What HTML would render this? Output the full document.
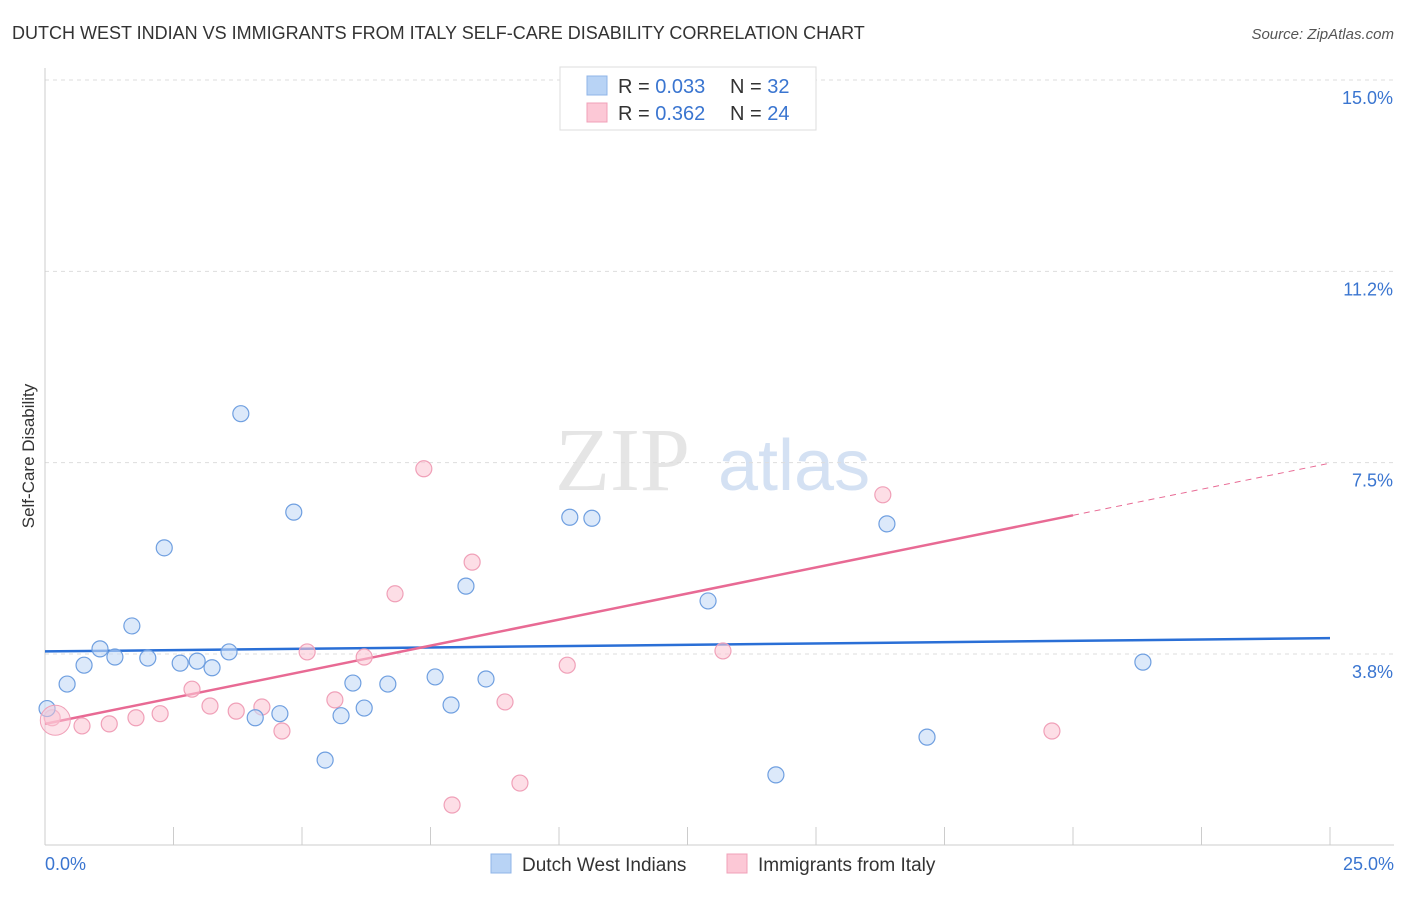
<!DOCTYPE html>
<html><head><meta charset="utf-8"><style>
body{margin:0;background:#fff;font-family:"Liberation Sans",sans-serif;}
</style></head><body>
<svg id="chart" width="1406" height="892" xmlns="http://www.w3.org/2000/svg">
<text x="12" y="39" font-size="18" fill="#333">DUTCH WEST INDIAN VS IMMIGRANTS FROM ITALY SELF-CARE DISABILITY CORRELATION CHART</text>
<text x="1394" y="39" font-size="15" fill="#555" text-anchor="end" font-style="italic">Source: ZipAtlas.com</text>
<g opacity="0.5">
<text x="555" y="490" font-family="Liberation Serif,serif" font-size="90" fill="#ccc">ZIP</text>
<text x="718" y="490" font-size="72" fill="#aac4e8">atlas</text>
</g>
<g id="grid"></g>
<g id="axes"></g>
<g id="lines"></g>
<g id="pts"></g>
<text transform="translate(34,456) rotate(-90)" font-size="17" fill="#333" text-anchor="middle">Self-Care Disability</text>
<g>
<rect x="560" y="67" width="256" height="63" fill="#fff" stroke="#ddd"/>
<rect x="587" y="76" width="20" height="19" fill="#b8d3f5" stroke="#8fb4e8"/>
<rect x="587" y="103" width="20" height="19" fill="#fcc8d6" stroke="#f0a0b8"/>
<text x="618" y="93" font-size="20" fill="#333">R = <tspan fill="#3a75d0">0.033</tspan></text>
<text x="730" y="93" font-size="20" fill="#333">N = <tspan fill="#3a75d0">32</tspan></text>
<text x="618" y="120" font-size="20" fill="#333">R = <tspan fill="#3a75d0"> 0.362</tspan></text>
<text x="730" y="120" font-size="20" fill="#333">N = <tspan fill="#3a75d0">24</tspan></text>
</g>
<g>
<rect x="491" y="854" width="20" height="19" fill="#b8d3f5" stroke="#8fb4e8"/>
<text x="522" y="871" font-size="19" fill="#333">Dutch West Indians</text>
<rect x="727" y="854" width="20" height="19" fill="#fcc8d6" stroke="#f0a0b8"/>
<text x="758" y="871" font-size="19" fill="#333">Immigrants from Italy</text>
</g>
</svg>
<script>
const yTicks=[3.75,7.5,11.25,15];
const yTickLabels=["3.8%","7.5%","11.2%","15.0%"];
const xTickLabels=["0.0%","25.0%"];
const blueX=[0.04,0.43,0.76,1.07,1.36,1.69,2.0,2.32,2.63,2.96,3.25,3.58,3.81,4.09,4.57,4.84,5.45,5.76,5.99,6.21,6.67,7.59,7.9,8.19,8.58,10.21,10.64,12.9,14.22,16.38,17.16,21.36];
const blueY=[2.68,3.16,3.53,3.85,3.69,4.30,3.67,5.83,3.57,3.61,3.48,3.79,8.46,2.50,2.58,6.53,1.67,2.54,3.18,2.69,3.16,3.30,2.75,5.08,3.26,6.43,6.41,4.79,1.38,6.30,2.12,3.59];
const pinkX=[0.14,0.72,1.25,1.77,2.24,2.86,3.21,3.72,4.22,4.61,5.10,5.64,6.21,6.81,7.37,7.92,8.31,8.95,9.24,10.16,13.19,16.30,19.59,12.2];
const pinkY=[2.50,2.34,2.38,2.50,2.58,3.06,2.73,2.63,2.71,2.24,3.79,2.85,3.69,4.93,7.38,0.79,5.55,2.81,1.22,3.53,3.81,6.87,2.24,14.64];
const blueTrend=[3.80,0.0104];
const pinkTrend=[2.38,0.2044];
const NS="http://www.w3.org/2000/svg";
const X=v=>45+v/25*1285, Y=v=>845.3-v*51.02;
function mk(t,a,p){const e=document.createElementNS(NS,t);for(const k in a)e.setAttribute(k,a[k]);document.getElementById(p).appendChild(e);return e;}
yTicks.forEach((t,i)=>{
 const g=mk('line',{x1:45,x2:1394,y1:Y(t),y2:Y(t),stroke:'#ddd','stroke-dasharray':'4,4'},'grid');
 
 
 const l=mk('text',{x:1393,y:Y(t)+24,'font-size':18,fill:'#3a75d0','text-anchor':'end'},'axes');
 
 
 l.textContent=yTickLabels[i];
});
mk('line',{x1:45,x2:45,y1:68,y2:845,stroke:'#ccc'},'axes');
mk('line',{x1:45,x2:1394,y1:845,y2:845,stroke:'#ccc'},'axes');
for(let i=0;i<=10;i++){const xx=X(i*2.5);mk('line',{x1:xx,x2:xx,y1:827,y2:845,stroke:'#ccc'},'axes');}
[[0,'start',45],[1,'end',1394]].forEach(([i,a,x])=>{const t=mk('text',{x:x,y:870,'font-size':18,fill:'#3a75d0','text-anchor':a},'axes');
 
 
 t.textContent=xTickLabels[i];});
function pts(xs,ys,fill,stroke,name){xs.forEach((x,i)=>{const c=mk('circle',{cx:X(x),cy:Y(ys[i]),r:8,fill:fill,'fill-opacity':0.6,stroke:stroke,'stroke-width':1.2},'pts');
 
 });}
pts(pinkX,pinkY,'#fcc8d6','#f0a0b8','pink-point');
pts(blueX,blueY,'#c5dbf7','#6f9fe0','blue-point');
const big=mk('circle',{cx:X(0.2),cy:Y(2.45),r:15,fill:'#fcc8d6','fill-opacity':0.5,stroke:'#f0a0b8'},'pts');


const bl=mk('line',{x1:X(0),y1:Y(blueTrend[0]),x2:X(25),y2:Y(blueTrend[0]+25*blueTrend[1]),stroke:'#2a6fd6','stroke-width':2.5},'lines');


const pl=mk('line',{x1:X(0),y1:Y(pinkTrend[0]),x2:X(20),y2:Y(pinkTrend[0]+20*pinkTrend[1]),stroke:'#e86a94','stroke-width':2.5},'lines');


const pd=mk('line',{x1:X(20),y1:Y(pinkTrend[0]+20*pinkTrend[1]),x2:X(25),y2:Y(pinkTrend[0]+25*pinkTrend[1]),stroke:'#e86a94','stroke-width':1,'stroke-dasharray':'6,5'},'lines');


</script>
</body></html>
